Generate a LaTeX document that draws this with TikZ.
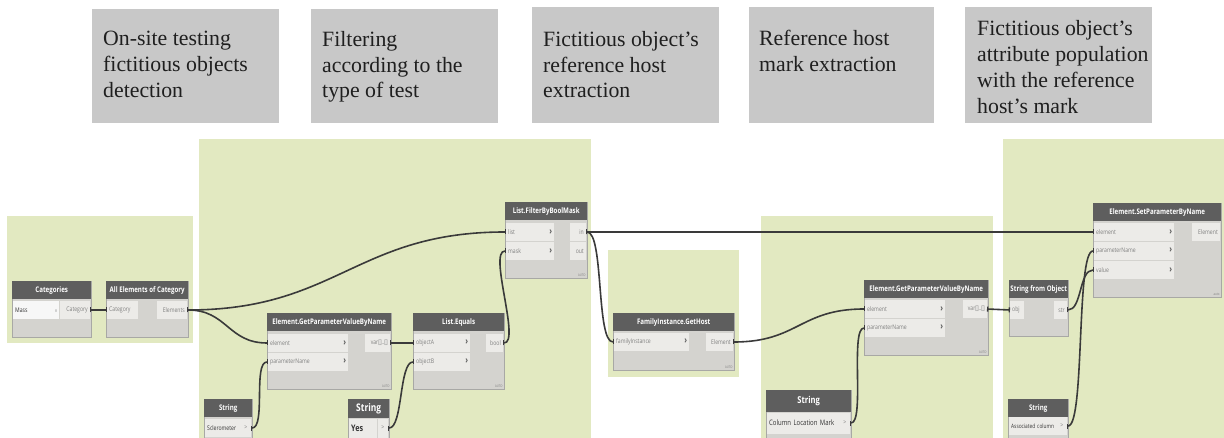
\documentclass[tikz,border=0pt]{standalone}
\usepackage{fontspec}
\setmainfont{Liberation Serif}
\newfontfamily\dynfont[FakeStretch=0.8]{Open Sans}
\usetikzlibrary{positioning}
\usetikzlibrary{arrows.meta}
\definecolor{groupgreen}{RGB}{226,233,193}
\definecolor{notegray}{RGB}{200,200,200}
\definecolor{headgray}{RGB}{94,94,94}
\definecolor{bodygray}{RGB}{212,211,207}
\definecolor{cellgray}{RGB}{236,235,232}
\definecolor{edgegray}{RGB}{168,168,165}
\definecolor{labelgray}{RGB}{128,128,128}
\definecolor{wiregray}{RGB}{58,58,58}
\newcommand{\chev}{\hskip 0pt plus 1filll{\color{headgray}\bfseries\fontsize{9.5}{9}\selectfont ›}}
\tikzset{
    dyngroup/.style = {fill=groupgreen, draw=none},
    notebox/.style = {fill=notegray, draw=none, anchor=north west, inner sep=0pt},
    notetext/.style = {anchor=north west, inner sep=0pt, align=left, text=black!88, font=\fontsize{21.8}{25.8}\selectfont},
    dynbody/.style = {draw=edgegray, fill=bodygray, line width=0.8pt, anchor=north west, inner sep=0pt},
    dynhead/.style = {fill=headgray, text=white, anchor=north west, inner sep=0pt, minimum height=18pt, font=\dynfont\bfseries\fontsize{7.7}{9}\selectfont},
    cellin/.style = {fill=cellgray, text=labelgray, anchor=west, inner xsep=2pt, inner ysep=0pt, minimum height=18pt, align=left, font=\dynfont\fontsize{6.4}{8}\selectfont},
    cellout/.style = {cellin, anchor=east, align=right},
    cellval/.style = {cellin, text=black!80},
    cellgt/.style = {cellin, anchor=east, align=center, text width=6pt},
    celldrop/.style = {cellin, fill=white!97!black, text=black!80},
    autotag/.style = {anchor=south east, inner sep=2pt, text=labelgray, font=\dynfont\fontsize{3.5}{4}\selectfont},
    wire/.style = {draw=wiregray, line width=1.6pt, {Bar[width=5pt,line width=1.4pt]}-{Bar[width=5pt,line width=1.4pt]}}
}
\begin{document}
\begin{tikzpicture}[x=1pt, y=-1pt]
  \useasboundingbox (0,0) rectangle (1224,438);

  % groups
  \foreach \xa/\ya/\xb/\yb in {7/216/193/343, 199/139/591/438, 608/250/739/377, 761/216/993/438, 1003/139/1224/438}
    \fill[dyngroup] (\xa,\ya) rectangle (\xb,\yb);

  % step notes
  \node[notebox, minimum width=187pt, minimum height=114pt] (note1) at (92,9) {};
  \node[notetext] (note1-text) at ([xshift=11pt,yshift=-22pt]note1.north west) {On-site testing\\fictitious objects\\detection};
  \node[notebox, minimum width=187pt, minimum height=114pt] (note2) at (311,9) {};
  \node[notetext] (note2-text) at ([xshift=11pt,yshift=-22pt]note2.north west) {Filtering\\according to the\\type of test};
  \node[notebox, minimum width=187pt, minimum height=116pt] (note3) at (532,7) {};
  \node[notetext] (note3-text) at ([xshift=11pt,yshift=-24pt]note3.north west) {Fictitious object’s\\reference host\\extraction};
  \node[notebox, minimum width=185pt, minimum height=116pt] (note4) at (749,7) {};
  \node[notetext] (note4-text) at ([xshift=10pt,yshift=-23pt]note4.north west) {Reference host\\mark extraction};
  \node[notebox, minimum width=187pt, minimum height=116pt] (note5) at (965,7) {};
  \node[notetext] (note5-text) at ([xshift=12pt,yshift=-13.5pt]note5.north west) {Fictitious object’s\\attribute population\\with the reference\\host’s mark};

  % Categories
  \node[dynbody, minimum width=79pt, minimum height=56pt] (cat) at (12,281) {};
  \node[dynhead, minimum width=79pt] (cat-head) at (cat.north west) {Categories};
  \node[celldrop, text width=42pt] (cat-drop) at (13,310) {Mass\hskip 0pt plus 1filll{\color{labelgray}\fontsize{5}{5}\selectfont v}};
  \node[cellout, text width=26pt] (cat-out) at (90,310) {Category};

  % All Elements of Category
  \node[dynbody, minimum width=82pt, minimum height=56pt] (allel) at (106,281) {};
  \node[dynhead, minimum width=82pt] (allel-head) at (allel.north west) {All Elements of Category};
  \node[cellin, text width=27pt] (allel-in) at (107,310) {Category};
  \node[cellout, text width=26pt] (allel-out) at (187,310) {Elements};

  % Element.GetParameterValueByName (test type)
  \node[dynbody, minimum width=124pt, minimum height=76pt, label={[autotag]south east:AUTO}] (gp1) at (267,313) {};
  \node[dynhead, minimum width=124pt] (gp1-head) at (gp1.north west) {Element.GetParameterValueByName};
  \node[cellin, text width=76pt] (gp1-element) at (268,343) {element\chev};
  \node[cellin, text width=76pt] (gp1-param) at (268,362) {parameterName\chev};
  \node[cellout, text width=21pt] (gp1-out) at (390,343) {var[]..[]};

  \node[dynbody, minimum width=48pt, minimum height=39pt] (scl) at (204,399) {};
  \node[dynhead, minimum width=48pt] (scl-head) at (scl.north west) {String};
  \node[cellval, text width=33pt] (scl-val) at (205,428) {Sclerometer};
  \node[cellgt] (scl-gt) at (251,428) {>};

  % List.Equals
  \node[dynbody, minimum width=91pt, minimum height=76pt, label={[autotag]south east:AUTO}] (eq) at (413,313) {};
  \node[dynhead, minimum width=91pt] (eq-head) at (eq.north west) {List.Equals};
  \node[cellin, text width=52pt] (eq-a) at (414,343) {objectA\chev};
  \node[cellin, text width=52pt] (eq-b) at (414,362) {objectB\chev};
  \node[cellout, text width=13pt] (eq-out) at (503,343) {bool};

  \node[dynbody, minimum width=41pt, minimum height=39pt] (yes) at (348,399) {};
  \node[dynhead, minimum width=41pt, minimum height=19pt, font=\dynfont\bfseries\fontsize{10.5}{11}\selectfont] (yes-head) at (yes.north west) {String};
  \node[cellval, text width=24pt, minimum height=19pt, font=\dynfont\bfseries\fontsize{9}{10}\selectfont] (yes-val) at (349,428) {Yes};
  \node[cellgt, minimum height=19pt] (yes-gt) at (388,428) {>};

  % List.FilterByBoolMask
  \node[dynbody, minimum width=82pt, minimum height=76pt, label={[autotag]south east:AUTO}] (filter) at (505,202) {};
  \node[dynhead, minimum width=82pt] (filter-head) at (filter.north west) {List.FilterByBoolMask};
  \node[cellin, text width=44pt] (filter-list) at (506,232) {list\chev};
  \node[cellin, text width=44pt] (filter-mask) at (506,251) {mask\chev};
  \node[cellout, text width=12pt] (filter-in) at (586,232) {in};
  \node[cellout, text width=12pt] (filter-out) at (586,251) {out};

  % FamilyInstance.GetHost
  \node[dynbody, minimum width=121pt, minimum height=57pt, label={[autotag]south east:AUTO}] (host) at (613,313) {};
  \node[dynhead, minimum width=121pt] (host-head) at (host.north west) {FamilyInstance.GetHost};
  \node[cellin, text width=71pt] (host-in) at (614,342) {familyInstance\chev};
  \node[cellout, text width=23pt] (host-out) at (733,342) {Element};

  % Element.GetParameterValueByName (host mark)
  \node[dynbody, minimum width=124pt, minimum height=75pt, label={[autotag]south east:AUTO}] (gp2) at (864,280) {};
  \node[dynhead, minimum width=124pt] (gp2-head) at (gp2.north west) {Element.GetParameterValueByName};
  \node[cellin, text width=76pt] (gp2-element) at (865,309) {element\chev};
  \node[cellin, text width=76pt] (gp2-param) at (865,328) {parameterName\chev};
  \node[cellout, text width=20pt] (gp2-out) at (987,309) {var[]..[]};

  \node[dynbody, minimum width=85pt, minimum height=48pt] (colmark) at (766,390) {};
  \node[dynhead, minimum width=85pt, minimum height=22pt, font=\dynfont\bfseries\fontsize{9.5}{10}\selectfont] (colmark-head) at (colmark.north west) {String};
  \node[cellval, text width=70pt, minimum height=21pt, font=\dynfont\fontsize{7.5}{9}\selectfont] (colmark-val) at (767,423) {Column Location Mark};
  \node[cellgt, minimum height=21pt] (colmark-gt) at (850,423) {>};

  % String from Object
  \node[dynbody, minimum width=59pt, minimum height=56pt] (sfo) at (1009,280) {};
  \node[dynhead, minimum width=59pt] (sfo-head) at (sfo.north west) {String from Object};
  \node[cellin, text width=10pt] (sfo-in) at (1010,310) {obj};
  \node[cellout, text width=9pt] (sfo-out) at (1067,310) {str};

  % Element.SetParameterByName
  \node[dynbody, minimum width=128pt, minimum height=94pt, label={[autotag]south east:auto}] (setp) at (1093,203) {};
  \node[dynhead, minimum width=128pt] (setp-head) at (setp.north west) {Element.SetParameterByName};
  \node[cellin, text width=76pt] (setp-element) at (1094,232) {element\chev};
  \node[cellin, text width=76pt] (setp-param) at (1094,251) {parameterName\chev};
  \node[cellin, text width=76pt] (setp-value) at (1094,270) {value\chev};
  \node[cellout, text width=24pt] (setp-out) at (1220,232) {Element};

  \node[dynbody, minimum width=60pt, minimum height=39pt] (assoc) at (1008,399) {};
  \node[dynhead, minimum width=60pt] (assoc-head) at (assoc.north west) {String};
  \node[cellval, text width=46pt, font=\dynfont\fontsize{6}{8}\selectfont] (assoc-val) at (1009,426) {Associated column};
  \node[cellgt] (assoc-gt) at (1067,426) {>};

  % wires
  \draw[wire] (cat-out.east) -- (allel-in.west);
  \draw[wire] (allel-out.east) .. controls +(150,0) and +(-150,0) .. (filter-list.west);
  \draw[wire] (allel-out.east) .. controls +(40,0) and +(-40,0) .. (gp1-element.west);
  \draw[wire] (scl-gt.east) .. controls +(15,0) and +(-15,0) .. (gp1-param.west);
  \draw[wire] (gp1-out.east) -- (eq-a.west);
  \draw[wire] (yes-gt.east) .. controls +(15,0) and +(-15,0) .. (eq-b.west);
  \draw[wire] (eq-out.east) .. controls +(18,0) and +(-18,0) .. (filter-mask.west);
  \draw[wire] (filter-in.east) -- (setp-element.west);
  \draw[wire] (filter-in.east) .. controls +(18,0) and +(-18,0) .. (host-in.west);
  \draw[wire] (host-out.east) .. controls +(65,0) and +(-65,0) .. (gp2-element.west);
  \draw[wire] (colmark-gt.east) .. controls +(15,0) and +(-15,0) .. (gp2-param.west);
  \draw[wire] (gp2-out.east) -- (sfo-in.west);
  \draw[wire] (sfo-out.east) .. controls +(15,0) and +(-15,0) .. (setp-value.west);
  \draw[wire] (assoc-gt.east) .. controls +(18,0) and +(-18,0) .. (setp-param.west);
\end{tikzpicture}
\end{document}
